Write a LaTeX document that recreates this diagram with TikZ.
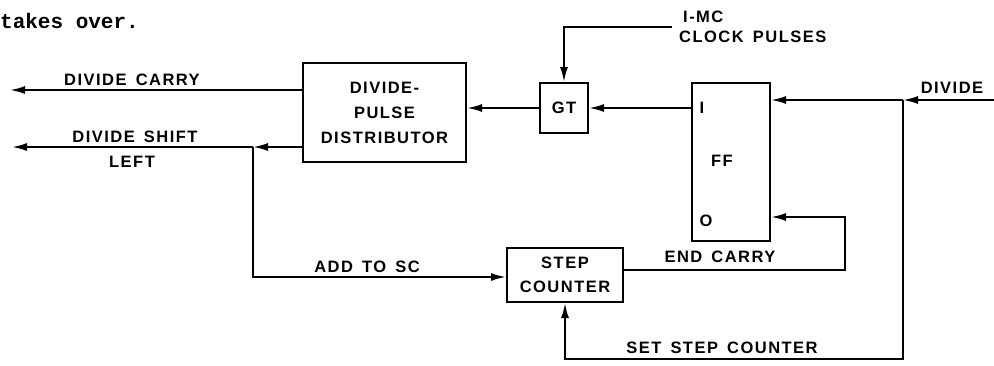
\documentclass[tikz,border=0pt]{standalone}
\usepackage{fontspec}
\setmainfont{Liberation Sans}
\newfontfamily\lbl[LetterSpace=9,WordSpace=1.5]{Liberation Sans Bold}
\newfontfamily\typew{Liberation Mono Bold}
\usetikzlibrary{arrows.meta,calc}
\begin{document}
\begin{tikzpicture}[x=1pt,y=-1pt,
  wire/.style={line width=2pt},
  arr/.style={wire,-{Latex[length=15pt,width=8pt]}},
  blk/.style={draw,line width=2pt,rectangle,inner sep=0pt,align=center,
              font=\lbl\fontsize{16.5}{25}\selectfont},
  lab/.style={inner sep=0pt,font=\lbl\fontsize{16.5}{20}\selectfont,align=center}]
\useasboundingbox (0,0) rectangle (994,365);
\node[anchor=base west,inner sep=0pt,font=\typew\fontsize{21}{24}\selectfont] (tko) at (0,28) {takes over.};
% blocks
\node[blk,minimum width=163pt,minimum height=99pt] (dist) at (384.5,112.5) {DIVIDE-\\PULSE\\DISTRIBUTOR};
\node[blk,minimum width=48pt,minimum height=50pt] (gt) at (564,108) {GT};
\node[blk,minimum width=78pt,minimum height=158pt] (ff) at (731,162) {};
\node[blk,minimum width=116pt,minimum height=54pt,font=\lbl\fontsize{16.5}{24}\selectfont] (sc) at (565,275) {STEP\\COUNTER};
% FF inner labels
\node[lab] (ffi) at (702,108) {I};
\node[lab] (fft) at (722,161) {FF};
\node[lab] (ffo) at (706,221) {O};
% coordinates
\coordinate (dc) at (10,90);
\coordinate (dsl) at (12,147);
\coordinate (j1) at (253,147);
\coordinate (a1) at (253,277);
\coordinate (clk) at (672,27);
\coordinate (div) at (994,100);
\coordinate (j2) at (903,100);
\coordinate (b2) at (903,359);
\coordinate (ecr) at (845,217);
% connectors
\draw[arr] (dist.west |- dc) -- (dc);
\draw[arr] (dist.west |- j1) -- (j1);
\draw[arr] (j1) -- (dsl);
\draw[arr] (j1) -- (a1) -- (sc.west |- a1);
\draw[arr] (gt.west) -- (dist.east |- gt.west);
\draw[arr] (ff.west |- gt.east) -- (gt.east);
\draw[arr] (clk) -| (gt.north);
\draw[arr] (div) -- (j2);
\draw[arr] (j2) -- (ff.east |- j2);
\draw[arr] (j2) -- (b2) -| (sc.south);
\draw[arr] ($(sc.east)+(0,-5)$) -| (ecr) -- (ff.east |- ecr);
% labels
\node[lab] (l1) at (132,80) {DIVIDE CARRY};
\node[lab] (l2) at (135,137) {DIVIDE SHIFT};
\node[lab] (l3) at (132,162) {LEFT};
\node[lab] (l4) at (367,267) {ADD TO SC};
\node[lab] (l5) at (720,257) {END CARRY};
\node[lab] (l6) at (722,348) {SET STEP COUNTER};
\node[lab,anchor=west] (l7) at (683,17) {I-MC};
\node[lab,anchor=west] (l8) at (679,37) {CLOCK PULSES};
\node[lab] (l9) at (952,88) {DIVIDE};
\end{tikzpicture}
\end{document}
